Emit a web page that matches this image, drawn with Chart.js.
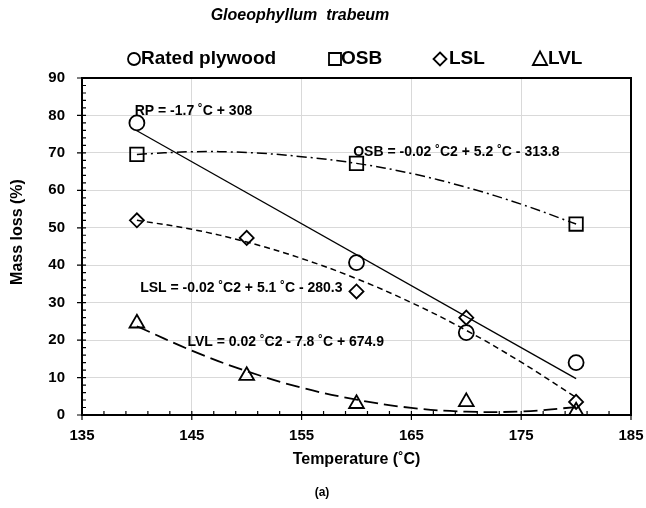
<!DOCTYPE html>
<html>
<head>
<meta charset="utf-8">
<script src="https://cdn.jsdelivr.net/npm/chart.js@4/dist/chart.umd.min.js"></script>
<style>
html,body{margin:0;padding:0;background:#fff;}
canvas{display:block;}
</style>
</head>
<body>
<canvas id="c" width="646" height="508"></canvas>
<script>
// ---- data ----
const xTicks = [135, 145, 155, 165, 175, 185];
const yTicks = [0, 10, 20, 30, 40, 50, 60, 70, 80, 90];

const rpX = [140, 160, 170, 180];
const rpY = [78, 40.7, 22, 14];
const osbX = [140, 160, 180];
const osbY = [69.6, 67.2, 51];
const lslX = [140, 150, 160, 170, 180];
const lslY = [52, 47.3, 33, 26, 3.5];
const lvlX = [140, 150, 160, 170, 180];
const lvlY = [24.5, 10.5, 3, 3.5, 1];

// trend lines
const rpTrendX = [140, 180];
const rpTrendY = [75.9, 9.7];
const trendX = [140, 145, 150, 155, 160, 165, 170, 175, 180];
const osbTrendY = [69.6, 70.3, 70.1, 69.0, 67.2, 64.5, 60.8, 56.3, 51.0];
const lslTrendY = [52.0, 49.6, 46.2, 41.8, 36.4, 30.0, 22.6, 14.1, 4.7];
const lvlTrendY = [23.7, 17.2, 11.7, 7.3, 4.1, 1.9, 0.9, 0.95, 2.1];

const legendLabels = ['Rated plywood', 'OSB', 'LSL', 'LVL'];
const equations = [
  {text: 'RP = -1.7 ˚C + 308', x: 139.8, y: 81.2},
  {text: 'OSB = -0.02 ˚C2 + 5.2 ˚C - 313.8', x: 159.7, y: 70.2},
  {text: 'LSL = -0.02 ˚C2 + 5.1 ˚C - 280.3', x: 140.3, y: 33.9},
  {text: 'LVL = 0.02 ˚C2 - 7.8 ˚C + 674.9', x: 144.6, y: 19.5}
];
const chartTitle = 'Gloeophyllum  trabeum';
const xTitle = 'Temperature (˚C)';
const yTitle = 'Mass loss (%)';
const subLabel = '(a)';

const zip = (xs, ys) => xs.map((x, i) => ({x, y: ys[i]}));
const FONT = 'Arial, "Liberation Sans", sans-serif';

const markerBase = {showLine: false, borderColor: '#000', backgroundColor: 'rgba(0,0,0,0)', pointBorderWidth: 1.8};
const trendBase = {showLine: true, pointRadius: 0, borderColor: '#000', borderWidth: 1.5, fill: false, tension: 0.4};

const datasets = [
  Object.assign({label: 'RP', data: zip(rpX, rpY), pointStyle: 'circle', pointRadius: 7.5}, markerBase),
  Object.assign({label: 'OSB', data: zip(osbX, osbY), pointStyle: 'rect', pointRadius: 9.5}, markerBase),
  Object.assign({label: 'LSL', data: zip(lslX, lslY), pointStyle: 'rectRot', pointRadius: 7}, markerBase),
  Object.assign({label: 'LVL', data: zip(lvlX, lvlY), pointStyle: 'triangle', pointRadius: 8.5}, markerBase),
  Object.assign({label: 'RP trend', data: zip(rpTrendX, rpTrendY)}, trendBase, {borderWidth: 1.3, tension: 0}),
  Object.assign({label: 'OSB trend', data: zip(trendX, osbTrendY), borderDash: [10, 4, 2, 4]}, trendBase),
  Object.assign({label: 'LSL trend', data: zip(trendX, lslTrendY), borderDash: [6, 4]}, trendBase),
  Object.assign({label: 'LVL trend', data: zip(trendX, lvlTrendY), borderDash: [14, 6]}, trendBase, {borderWidth: 1.8})
];

function drawMarker(ctx, style, x, y, r) {
  ctx.beginPath();
  if (style === 'circle') ctx.arc(x, y, r, 0, Math.PI * 2);
  else if (style === 'rect') ctx.rect(x - r, y - r, 2 * r, 2 * r);
  else if (style === 'rectRot') { ctx.moveTo(x, y - r); ctx.lineTo(x + r, y); ctx.lineTo(x, y + r); ctx.lineTo(x - r, y); ctx.closePath(); }
  else if (style === 'triangle') { ctx.moveTo(x, y - r); ctx.lineTo(x + r * 0.95, y + r * 0.8); ctx.lineTo(x - r * 0.95, y + r * 0.8); ctx.closePath(); }
  ctx.stroke();
}

const decor = {
  id: 'decor',
  afterDraw(chart) {
    const ctx = chart.ctx;
    const xs = chart.scales.x, ys = chart.scales.y;
    const a = chart.chartArea;
    ctx.save();
    ctx.strokeStyle = '#000';
    // frame
    ctx.lineWidth = 2;
    ctx.strokeRect(a.left, a.top, a.right - a.left, a.bottom - a.top);
    // ticks
    ctx.lineWidth = 1.2;
    ctx.beginPath();
    for (let v = xs.min; v <= xs.max + 1e-6; v += 2) {
      const px = xs.getPixelForValue(v);
      ctx.moveTo(px, a.bottom); ctx.lineTo(px, a.bottom - 4);
    }
    xTicks.forEach(v => { const px = xs.getPixelForValue(v); ctx.moveTo(px, a.bottom); ctx.lineTo(px, a.bottom + 5); });
    for (let v = ys.min; v <= ys.max + 1e-6; v += 2) {
      const py = ys.getPixelForValue(v);
      ctx.moveTo(a.left, py); ctx.lineTo(a.left + 4, py);
    }
    yTicks.forEach(v => { const py = ys.getPixelForValue(v); ctx.moveTo(a.left, py); ctx.lineTo(a.left - 5, py); });
    ctx.stroke();

    ctx.fillStyle = '#000';
    // equations
    ctx.font = 'bold 14px ' + FONT;
    ctx.textAlign = 'left';
    ctx.textBaseline = 'middle';
    equations.forEach(e => ctx.fillText(e.text, xs.getPixelForValue(e.x), ys.getPixelForValue(e.y)));

    // title
    ctx.textAlign = 'center';
    ctx.font = 'italic bold 16px ' + FONT;
    ctx.fillText(chartTitle, 300, 16);

    // legend
    const legendPos = [[134, 141, 'circle', 6], [335, 341, 'rect', 6], [440, 449, 'rectRot', 6.5], [540, 548, 'triangle', 7.5]];
    ctx.font = 'bold 19px ' + FONT;
    ctx.textAlign = 'left';
    ctx.lineWidth = 1.8;
    legendPos.forEach((p, i) => {
      drawMarker(ctx, p[2], p[0], 59, p[3]);
      ctx.fillText(legendLabels[i], p[1], 59);
    });

    // axis titles
    ctx.textAlign = 'center';
    ctx.font = 'bold 16px ' + FONT;
    ctx.fillText(xTitle, (a.left + a.right) / 2, 460);
    ctx.save();
    ctx.translate(18, 232);
    ctx.rotate(-Math.PI / 2);
    ctx.fillText(yTitle, 0, 0);
    ctx.restore();
    ctx.font = 'bold 12px ' + FONT;
    ctx.fillText(subLabel, 322, 493);
    ctx.restore();
  }
};

new Chart(document.getElementById('c'), {
  type: 'scatter',
  data: {datasets},
  options: {
    responsive: false,
    animation: false,
    layout: {padding: {top: 78, right: 15, left: 0, bottom: 0}},
    plugins: {legend: {display: false}, tooltip: {enabled: false}},
    scales: {
      x: {
        type: 'linear', min: 135, max: 185,
        afterFit: s => { s.height = 93; s.paddingLeft = 0; s.paddingRight = 0; },
        afterBuildTicks: s => { s.ticks = xTicks.map(v => ({value: v})); },
        ticks: {color: '#000', font: {family: FONT, size: 15, weight: 'bold'}, padding: 12},
        grid: {color: '#d9d9d9', lineWidth: 1, drawTicks: false},
        border: {display: true, color: '#000', width: 2}
      },
      y: {
        type: 'linear', min: 0, max: 90,
        afterFit: s => { s.width = 82; s.paddingTop = 0; s.paddingBottom = 0; },
        afterBuildTicks: s => { s.ticks = yTicks.map(v => ({value: v})); },
        ticks: {color: '#000', font: {family: FONT, size: 15, weight: 'bold'}, padding: 17},
        grid: {color: '#d9d9d9', lineWidth: 1, drawTicks: false},
        border: {display: true, color: '#000', width: 2}
      }
    }
  },
  plugins: [decor]
});
</script>
</body>
</html>
